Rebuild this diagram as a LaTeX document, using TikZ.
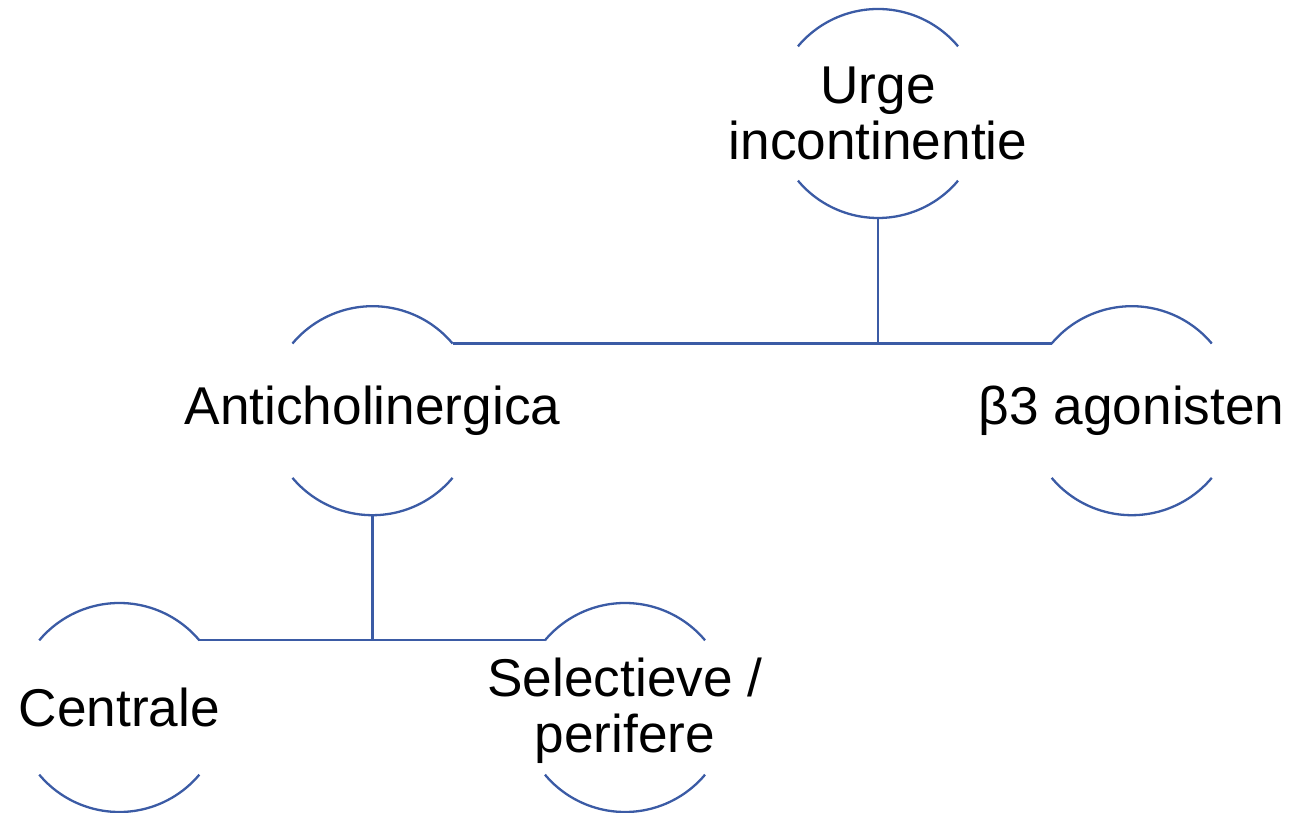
\documentclass[tikz,border=0pt]{standalone}
\usepackage{fontspec}
\setmainfont{Liberation Sans}
\definecolor{ringblue}{RGB}{59,91,165}
\begin{document}
\begin{tikzpicture}[
  x=1pt, y=1pt,
  label/.style={inner sep=0pt, align=center, text=black,
    font=\fontsize{53.2}{56}\selectfont},
  ring/.style={draw=ringblue, line width=2.3pt},
  link/.style={draw=ringblue, line width=2.3pt}
]
\useasboundingbox (0,0) rectangle (1314,813);
\def\R{104.5pt}

% ring centres
\coordinate (urge-c) at (878,699.5);
\coordinate (anti-c) at (372.5,402.3);
\coordinate (beta-c) at (1131.7,402.3);
\coordinate (cent-c) at (119.3,105.5);
\coordinate (sel-c)  at (625,105.5);

% texts inside the rings
\node[label] (urge) at (urge-c) {Urge\\incontinentie};
\node[label] (anti) at (anti-c) {Anticholinergica};
\node[label] (beta) at (beta-c) {β3 agonisten};
\node[label] (cent) at (cent-c) {Centrale};
\node[label] (sel)  at ([yshift=-3pt]sel-c) {Selectieve /\\perifere};

% upper and lower arcs of every ring
\foreach \n in {urge,anti,beta,cent,sel}{
  \coordinate (\n-ne) at ([shift={(40:\R)}]\n-c);
  \coordinate (\n-nw) at ([shift={(140:\R)}]\n-c);
  \coordinate (\n-sw) at ([shift={(220:\R)}]\n-c);
  \coordinate (\n-bot) at ([shift={(270:\R)}]\n-c);
  \draw[ring] (\n-ne) arc[start angle=40, end angle=140, radius=\R];
  \draw[ring] (\n-sw) arc[start angle=220, end angle=320, radius=\R];
}

% tree connectors
\draw[link] (anti-ne) -- (beta-nw);
\draw[link] (urge-bot) -- (urge-bot |- anti-ne);
\draw[link] (cent-ne) -- (sel-nw);
\draw[link] (anti-bot) -- (anti-bot |- cent-ne);
\end{tikzpicture}
\end{document}
